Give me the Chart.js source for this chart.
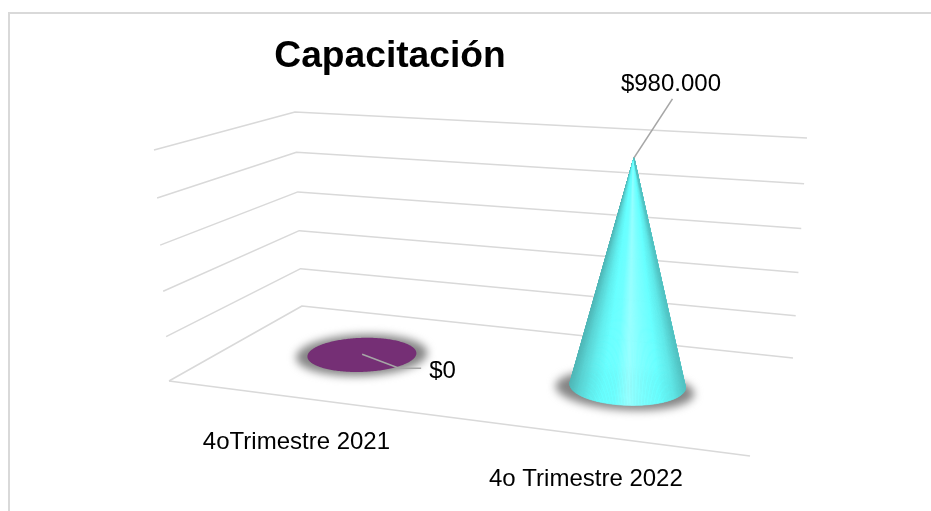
<!DOCTYPE html>
<html lang="es">
<head>
<meta charset="utf-8">
<title>Capacitación</title>
<script src="https://cdn.jsdelivr.net/npm/chart.js@4"></script>
<style>
html,body{margin:0;padding:0;background:#fff}
#wrap{position:relative;width:931px;height:511px;overflow:hidden}
#frameTop{position:absolute;left:8px;right:0;top:12px;height:2px;background:#d9d9d9}
#frameLeft{position:absolute;left:8px;top:12px;bottom:0;width:2px;background:#d9d9d9}
canvas{position:absolute;left:0;top:0}
</style>
</head>
<body>
<div id="wrap">
<canvas id="c" width="931" height="511"></canvas>
<div id="frameTop"></div><div id="frameLeft"></div>
</div>
<script>
// ---- data ----
const categories = ['4oTrimestre 2021', '4o Trimestre 2022'];
const capacitacion = [0, 980000];
const barColors = ['#752f75', '#66ffff'];
const axisMin = 0;
const axisMax = 1000000;
const axisStep = 200000;
const chartTitle = 'Capacitación';

// ---- 3D view: floor corners and the lift of each corner at full axis height ----
const VIEW = {
  floor: { A: [169, 381], B: [750, 456], C: [793, 358], D: [302, 306] },
  lift:  { A: [-15, -231], B: [11, -257], C: [14, -220], D: [-7, -194] },
  perspective: 0.05,
  depthRatio: 2.05,
  labelOffset: [-3, 44.5]
};
const LEADERS = [
  { pts: [[37, 14], [59, 14]], text: [67, 17.5], align: 'left' },
  { pts: [[38.5, -59]], text: [37, -73.5], align: 'center' }
];
const GRID = '#d9d9d9', LEADER = '#a6a6a6', INK = '#000000';
const LABEL_FONT = '24px "Liberation Sans"';
const CONE_STOPS = [
  [0, [80, 185, 185]], [0.06, [88, 210, 210]], [0.16, [96, 238, 238]], [0.27, [102, 255, 255]],
  [0.38, [110, 255, 255]], [0.5, [150, 255, 255]], [0.62, [125, 255, 255]], [0.78, [102, 255, 255]],
  [0.9, [94, 232, 232]], [1, [82, 195, 195]]
];

// unit square -> floor quad
function makeFloor(q) {
  const [x0, y0] = q.A, [x1, y1] = q.B, [x2, y2] = q.C, [x3, y3] = q.D;
  const dx1 = x1 - x2, dy1 = y1 - y2, dx2 = x3 - x2, dy2 = y3 - y2;
  const sx = x0 - x1 + x2 - x3, sy = y0 - y1 + y2 - y3;
  const den = dx1 * dy2 - dx2 * dy1;
  const g = (sx * dy2 - dx2 * sy) / den, h = (dx1 * sy - sx * dy1) / den;
  const a = x1 - x0 + g * x1, b = x3 - x0 + h * x3, d = y1 - y0 + g * y1, e = y3 - y0 + h * y3;
  return (u, v) => {
    const w = g * u + h * v + 1;
    return [(a * u + b * v + x0) / w, (d * u + e * v + y0) / w];
  };
}
const floorAt = makeFloor(VIEW.floor);
const liftAt = (u, v) => {
  const l = VIEW.lift;
  return [0, 1].map(i => (1 - u) * ((1 - v) * l.A[i] + v * l.D[i]) + u * ((1 - v) * l.B[i] + v * l.C[i]));
};
const ease = t => t / (1 + VIEW.perspective * (1 - t));
const raise = (p, l, t) => { const k = ease(t); return [p[0] + l[0] * k, p[1] + l[1] * k]; };
const money = v => '$' + String(v).replace(/\B(?=(\d{3})+(?!\d))/g, '.');

function polyline(ctx, pts) {
  ctx.beginPath();
  pts.forEach((p, i) => i ? ctx.lineTo(p[0], p[1]) : ctx.moveTo(p[0], p[1]));
}
function mix(f) {
  for (let i = 1; i < CONE_STOPS.length; i++) {
    if (f <= CONE_STOPS[i][0]) {
      const [a, ca] = CONE_STOPS[i - 1], [b, cb] = CONE_STOPS[i];
      const k = (f - a) / (b - a);
      return 'rgb(' + ca.map((c, j) => Math.round(c + (cb[j] - c) * k)).join(',') + ')';
    }
  }
  return 'rgb(' + CONE_STOPS[CONE_STOPS.length - 1][1].join(',') + ')';
}
function ring(u, v, ru, rv) {
  const out = [];
  for (let i = 0; i < 240; i++) {
    const a = i / 240 * Math.PI * 2;
    out.push(floorAt(u + ru * Math.cos(a), v + rv * Math.sin(a)));
  }
  return out;
}

const view3d = {
  id: 'view3d',
  beforeDatasetsDraw(chart) {
    const { ctx, scales: { y } } = chart;
    const f = VIEW.floor, l = VIEW.lift;
    const span = y.bottom - y.top;
    ctx.save();
    ctx.strokeStyle = GRID; ctx.lineWidth = 1.5; ctx.lineJoin = 'round';
    y.ticks.forEach(tk => {
      const t = (y.bottom - y.getPixelForValue(tk.value)) / span;
      polyline(ctx, [raise(f.A, l.A, t), raise(f.D, l.D, t), raise(f.C, l.C, t)]);
      ctx.stroke();
    });
    polyline(ctx, [f.A, f.B]);
    ctx.stroke();
    ctx.restore();
  },
  // the library's rectangles are replaced by cones built from the same elements
  beforeDatasetDraw(chart, args) {
    const { ctx, chartArea: area, scales: { y } } = chart;
    const meta = args.meta;
    const W = area.right - area.left, span = y.bottom - y.top;
    meta.data.forEach((bar, i) => {
      const u = (bar.x - area.left) / W, v = 0.5;
      const ru = bar.width / 2 / W, rv = ru * VIEW.depthRatio;
      const t = (y.bottom - bar.y) / span;
      const apex = raise(floorAt(u, v), liftAt(u, v), t);
      // soft floor shadow
      ctx.save();
      ctx.filter = 'blur(4px)';
      ctx.fillStyle = '#858585';
      polyline(ctx, ring(u, v - 0.045 * t, ru * 1.2, rv * (1.22 - 0.22 * t)));
      ctx.closePath(); ctx.fill();
      ctx.restore();
      const base = ring(u, v, ru, rv);
      ctx.save();
      if (t <= 0.001) {
        ctx.fillStyle = barColors[i];
        polyline(ctx, base); ctx.closePath(); ctx.fill();
      } else {
        let li = 0, ri = 0, lo = Infinity, hi = -Infinity;
        base.forEach((p, k) => {
          const ang = Math.atan2(p[0] - apex[0], p[1] - apex[1]);
          if (ang < lo) { lo = ang; li = k; }
          if (ang > hi) { hi = ang; ri = k; }
        });
        // walk the front arc from the left tangent, through the bottom, to the right tangent
        const arc = [];
        for (let k = li; ; k = (k + 1) % base.length) { arc.push(base[k]); if (k === ri) break; }
        const x0 = arc[0][0], x1 = arc[arc.length - 1][0];
        ctx.lineWidth = 0.7;
        for (let k = 0; k < arc.length - 1; k++) {
          const col = mix((arc[k][0] - x0) / (x1 - x0));
          ctx.fillStyle = col; ctx.strokeStyle = col;
          polyline(ctx, [apex, arc[k], arc[k + 1]]);
          ctx.closePath(); ctx.fill(); ctx.stroke();
        }
      }
      ctx.restore();
    });
    return false;
  },
  afterDatasetsDraw(chart) {
    const { ctx, chartArea: area, scales: { x, y } } = chart;
    const meta = chart.getDatasetMeta(0);
    const W = area.right - area.left, span = y.bottom - y.top;
    ctx.save();
    ctx.font = LABEL_FONT; ctx.fillStyle = INK; ctx.textBaseline = 'middle';
    meta.data.forEach((bar, i) => {
      const u = (bar.x - area.left) / W, v = 0.5;
      const t = (y.bottom - bar.y) / span;
      const apex = raise(floorAt(u, v), liftAt(u, v), t);
      const ld = LEADERS[i];
      ctx.strokeStyle = LEADER; ctx.lineWidth = 1.6;
      polyline(ctx, [apex].concat(ld.pts.map(o => [apex[0] + o[0], apex[1] + o[1]])));
      ctx.stroke();
      ctx.textAlign = ld.align;
      ctx.fillText(money(capacitacion[i]), apex[0] + ld.text[0], apex[1] + ld.text[1]);
      // category label under the front edge
      const foot = floorAt(u, 0);
      ctx.textAlign = 'center';
      ctx.fillText(x.getLabelForValue(i), foot[0] + VIEW.labelOffset[0], foot[1] + VIEW.labelOffset[1]);
    });
    ctx.restore();
  }
};

new Chart(document.getElementById('c'), {
  type: 'bar',
  data: {
    labels: categories,
    datasets: [{
      label: chartTitle,
      data: capacitacion,
      backgroundColor: barColors,
      categoryPercentage: 0.8,
      barPercentage: 0.495
    }]
  },
  options: {
    responsive: false,
    animation: false,
    events: [],
    layout: { padding: { left: 10, right: 161, top: 22, bottom: 40 } },
    scales: {
      x: { display: false },
      y: { display: false, min: axisMin, max: axisMax, ticks: { stepSize: axisStep } }
    },
    plugins: {
      legend: { display: false },
      tooltip: { enabled: false },
      title: {
        display: true,
        text: chartTitle,
        fullSize: false,
        color: INK,
        font: { family: '"Liberation Sans"', size: 37.2, weight: 'bold' },
        padding: { top: 12, bottom: 10 }
      }
    }
  },
  plugins: [view3d]
});
</script>
</body>
</html>
